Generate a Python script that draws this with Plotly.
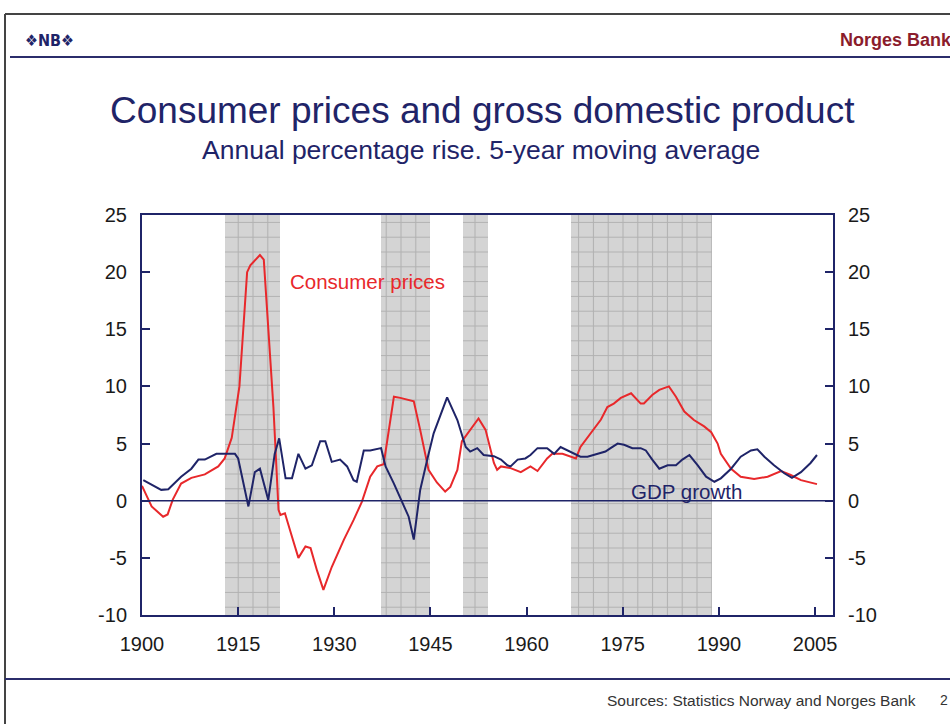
import plotly.graph_objects as go

# consumer prices, annual % rise, 5-yr moving average
cpi_years = [1900.0, 1901.5, 1903.3, 1904.0, 1904.8, 1906.1, 1907.7, 1909.8, 1911.9, 1912.9,
             1914.0, 1915.2, 1916.4, 1916.9, 1918.4, 1919.0, 1920.5, 1921.3, 1921.6, 1922.3,
             1923.4, 1924.4, 1925.5, 1926.3, 1927.3, 1928.3, 1929.6, 1931.5, 1933.0, 1934.3,
             1935.6, 1936.7, 1937.7, 1938.5, 1939.3, 1940.3, 1942.4, 1943.4, 1944.7, 1946.0,
             1947.3, 1948.1, 1949.2, 1949.9, 1951.2, 1952.5, 1953.6, 1954.9, 1955.4, 1956.0,
             1957.5, 1959.1, 1960.6, 1961.7, 1963.2, 1964.0, 1965.6, 1967.1, 1967.7, 1968.4,
             1970.0, 1971.6, 1972.6, 1973.6, 1974.7, 1976.3, 1977.8, 1978.3, 1979.6, 1980.7,
             1982.2, 1983.3, 1984.6, 1986.1, 1987.7, 1988.8, 1989.8, 1990.3, 1991.9, 1993.4,
             1995.5, 1997.6, 1999.7, 2001.2, 2002.8, 2005.3]
cpi = [1.3, -0.5, -1.4, -1.2, 0.1, 1.5, 2.0, 2.3, 3.0, 3.7,
       5.5, 10.0, 20.0, 20.6, 21.5, 21.1, 8.2, -0.8, -1.25, -1.1,
       -3.15, -5.0, -4.0, -4.15, -6.1, -7.8, -5.8, -3.4, -1.7, -0.1,
       2.1, 3.0, 3.2, 6.2, 9.1, 9.0, 8.7, 6.2, 2.7, 1.6,
       0.8, 1.2, 2.7, 5.2, 6.2, 7.2, 6.2, 3.3, 2.7, 3.0,
       2.85, 2.5, 3.0, 2.6, 3.7, 4.1, 4.1, 3.85, 3.7, 4.7,
       5.9, 7.1, 8.2, 8.5, 9.0, 9.4, 8.5, 8.5, 9.25, 9.7,
       10.0, 9.1, 7.8, 7.06, 6.5, 6.0, 5.0, 4.1, 2.8, 2.1,
       1.9, 2.1, 2.6, 2.25, 1.8, 1.45]

# GDP growth
gdp_years = [1900.2, 1901.5, 1903.0, 1904.1, 1906.1, 1907.7, 1908.8, 1909.8, 1910.8, 1911.6,
             1914.5, 1915.0, 1916.6, 1917.6, 1918.4, 1919.7, 1920.7, 1921.4, 1922.4, 1923.4,
             1924.4, 1925.5, 1926.5, 1927.8, 1928.6, 1929.6, 1930.9, 1932.0, 1933.0, 1933.5,
             1934.6, 1935.6, 1937.3, 1938.0, 1939.3, 1940.6, 1941.6, 1942.4, 1943.4, 1944.5,
             1945.5, 1947.6, 1949.2, 1950.5, 1951.2, 1952.3, 1953.3, 1954.9, 1956.0, 1957.0,
             1957.5, 1958.6, 1959.8, 1960.6, 1961.7, 1963.2, 1964.3, 1965.3, 1966.4, 1967.7,
             1968.4, 1969.5, 1970.5, 1971.3, 1972.3, 1973.1, 1974.2, 1975.2, 1976.5, 1977.8,
             1978.6, 1979.6, 1980.7, 1982.0, 1983.3, 1984.3, 1985.4, 1986.7, 1988.0, 1989.3,
             1990.3, 1991.9, 1993.4, 1995.0, 1996.0, 1997.1, 1998.6, 2000.2, 2001.4, 2002.8,
             2004.3, 2005.3]
gdp = [1.8, 1.4, 0.95, 1.0, 2.1, 2.8, 3.6, 3.6, 3.85, 4.1,
       4.1, 3.7, -0.5, 2.5, 2.8, 0.06, 4.1, 5.46, 1.96, 1.96,
       4.1, 2.8, 3.1, 5.2, 5.2, 3.4, 3.6, 3.0, 1.8, 1.66,
       4.4, 4.4, 4.6, 3.0, 1.5, -0.2, -1.4, -3.4, 0.94, 3.6,
       5.9, 9.05, 7.06, 4.7, 4.3, 4.6, 4.0, 3.9, 3.6, 3.1,
       3.0, 3.6, 3.7, 4.0, 4.6, 4.6, 4.1, 4.7, 4.4, 4.1,
       3.85, 3.85, 4.0, 4.1, 4.3, 4.6, 5.0, 4.9, 4.6, 4.6,
       4.4, 3.6, 2.8, 3.1, 3.1, 3.6, 4.0, 3.1, 2.1, 1.66,
       1.96, 2.8, 3.85, 4.4, 4.5, 3.85, 3.1, 2.4, 2.0, 2.5,
       3.3, 4.0]

# shaded periods
band_start = [1913.0, 1937.3, 1950.0, 1967.0]
band_end = [1921.5, 1945.0, 1954.0, 1989.0]

x_ticks = [1900, 1915, 1930, 1945, 1960, 1975, 1990, 2005]
y_ticks = [-10, -5, 0, 5, 10, 15, 20, 25]
y_labels = ["-10", "-5", "0", "5", "10", "15", "20", "25"]

NAVY = "#1f2468"
RED = "#e8282b"
FONT = "Liberation Sans, Arial, sans-serif"

# plot area in pixels: left 142, right 833, top 215, bottom 615
def px(x):
    return (x - 142) / 691.0

def py(y):
    return (615 - y) / 400.0

fig = go.Figure()

fig.add_trace(go.Bar(
    x=[(s + e) / 2 for s, e in zip(band_start, band_end)],
    y=[35] * len(band_start),
    base=-10,
    width=[e - s for s, e in zip(band_start, band_end)],
    marker=dict(color="#d4d4d4", line_width=0,
                pattern=dict(shape="+", fgcolor="#8e8e8e", size=14.8, solidity=0.14)),
    hoverinfo="skip",
    showlegend=False,
))

fig.add_trace(go.Scatter(x=cpi_years, y=cpi, mode="lines", name="Consumer prices",
                         line=dict(color=RED, width=2)))
fig.add_trace(go.Scatter(x=gdp_years, y=gdp, mode="lines", name="GDP growth",
                         line=dict(color=NAVY, width=2)))
# invisible trace so the right axis is drawn
fig.add_trace(go.Scatter(x=gdp_years[:1], y=gdp[:1], yaxis="y2", mode="lines",
                         line=dict(width=0), hoverinfo="skip", showlegend=False))

axis_common = dict(showline=True, linecolor=NAVY, linewidth=2, ticks="inside",
                   ticklen=8, tickwidth=2, tickcolor=NAVY, showgrid=False,
                   tickfont=dict(size=20, color="#1a1a1a", family=FONT))

fig.update_layout(
    width=950, height=724,
    margin=dict(l=142, r=117, t=215, b=109),
    paper_bgcolor="white", plot_bgcolor="white",
    showlegend=False,
    bargap=0,
    font=dict(family=FONT),
    xaxis=dict(range=[1900, 2007.8], tickvals=x_ticks, mirror=True,
               zeroline=False, ticklabelstandoff=10, **axis_common),
    yaxis=dict(range=[-10, 25], tickvals=y_ticks, ticktext=y_labels, mirror=True,
               zeroline=False, ticklabelstandoff=9, **axis_common),
    yaxis2=dict(range=[-10, 25], tickvals=y_ticks, ticktext=y_labels, overlaying="y",
                side="right", zeroline=False, ticklabelstandoff=9, **axis_common),
)

shapes = [
    # zero line
    dict(type="line", xref="paper", yref="y", x0=0, x1=1, y0=0, y1=0,
         line=dict(color=NAVY, width=1.5), layer="above"),
    # outer frame
    dict(type="line", xref="paper", yref="paper", x0=px(5), x1=px(960), y0=py(14), y1=py(14),
         line=dict(color="#444444", width=2)),
    dict(type="line", xref="paper", yref="paper", x0=px(5), x1=px(5), y0=py(14), y1=py(730),
         line=dict(color="#444444", width=2)),
    # header and footer rules
    dict(type="line", xref="paper", yref="paper", x0=px(10), x1=px(960), y0=py(57), y1=py(57),
         line=dict(color="#2b2d6b", width=2)),
    dict(type="line", xref="paper", yref="paper", x0=px(5), x1=px(960), y0=py(679), y1=py(679),
         line=dict(color="#2b2d6b", width=2)),
]
fig.update_layout(shapes=shapes)

annotations = [
    dict(text="<b>❖NB❖</b>", x=px(23), y=py(40), xanchor="left", yanchor="middle",
         font=dict(size=16, color=NAVY, family="DejaVu Sans Condensed, DejaVu Sans")),
    dict(text="<b>Norges Bank</b>", x=px(838), y=py(40), xanchor="left", yanchor="middle",
         font=dict(size=18, color="#8b1c2c", family=FONT)),
    dict(text="Consumer prices and gross domestic product", x=px(482), y=py(110),
         xanchor="center", yanchor="middle", font=dict(size=37, color=NAVY, family=FONT)),
    dict(text="Annual percentage rise. 5-year moving average", x=px(481), y=py(150),
         xanchor="center", yanchor="middle", font=dict(size=26.5, color=NAVY, family=FONT)),
    dict(text="Sources: Statistics Norway and Norges Bank", x=px(918), y=py(700),
         xanchor="right", yanchor="middle", font=dict(size=15.5, color="#333333", family=FONT)),
    dict(text="2", x=px(938), y=py(700), xanchor="left", yanchor="middle",
         font=dict(size=14, color="#333333", family=FONT)),
]
for a in annotations:
    a.update(xref="paper", yref="paper", showarrow=False)

annotations.append(dict(text="Consumer prices", x=1922.7, y=19.2, xref="x", yref="y",
                        xanchor="left", yanchor="middle", showarrow=False,
                        font=dict(size=20.5, color=RED, family=FONT)))
annotations.append(dict(text="GDP growth", x=1975.9, y=0.8, xref="x", yref="y",
                        xanchor="left", yanchor="middle", showarrow=False,
                        font=dict(size=20.5, color=NAVY, family=FONT)))
fig.update_layout(annotations=annotations)

fig.write_html("out.html", config={"displayModeBar": False},
               post_script="document.body.style.margin='0';")
